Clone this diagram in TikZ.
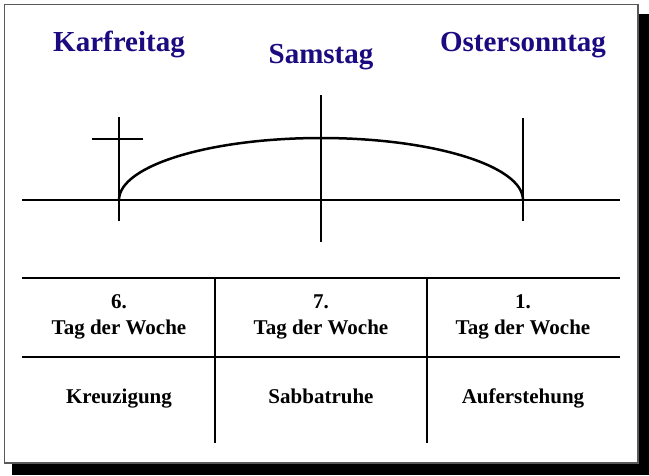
\documentclass[tikz,border=0pt]{standalone}
\usepackage{fontspec}
\setmainfont{Liberation Serif}
\usetikzlibrary{positioning}
\definecolor{titleblue}{RGB}{28,10,128}

\begin{document}
\begin{tikzpicture}[
    x=1pt, y=-1pt,
    title/.style={text=titleblue, font=\fontsize{29}{34}\selectfont\bfseries, anchor=base, inner sep=0pt},
    cell/.style={font=\fontsize{21}{26}\selectfont\bfseries, align=center, inner sep=0pt},
    heavy/.style={line width=2.5pt},
    rule/.style={line width=1.2pt},
  ]
  \useasboundingbox (0,0) rectangle (649,475);

  % frame with shadow
  \fill[black] (12,14) rectangle (649,475);
  \draw[fill=white, draw=gray!70!black, line width=1.5pt] (4.5,4.5) rectangle (638,463);

  % days
  \node[title] (fri) at (119,51) {Karfreitag};
  \node[title] (sat) at (321,63) {Samstag};
  \node[title] (sun) at (523,51) {Ostersonntag};

  % time line
  \coordinate (m6) at (119,200);
  \coordinate (m7) at (321,200);
  \coordinate (m1) at (523,200);
  \draw[heavy] (22,200) -- (620,200);
  \draw[heavy] (119,117) -- (119,221);
  \draw[heavy] (92,139) -- (143,139);
  \draw[heavy] (321,95) -- (321,242);
  \draw[heavy] (523,118) -- (523,221);
  \draw[heavy] (m6) .. controls (119,165.8) and (209.4,138) .. (321,138)
    .. controls (432.6,138) and (523,165.8) .. (m1);

  % table
  \draw[rule] (22,278) -- (620,278);
  \draw[rule] (22,357) -- (620,357);
  \draw[rule] (215,278) -- (215,443);
  \draw[rule] (427,278) -- (427,443);

  \node[cell] (d6) at (119,317) {6.\\Tag der Woche};
  \node[cell] (d7) at (321,317) {7.\\Tag der Woche};
  \node[cell] (d1) at (523,317) {1.\\Tag der Woche};
  \node[cell, anchor=base] (e6) at (119,403) {Kreuzigung};
  \node[cell, anchor=base] (e7) at (321,403) {Sabbatruhe};
  \node[cell, anchor=base] (e1) at (523,403) {Auferstehung};
\end{tikzpicture}
\end{document}
